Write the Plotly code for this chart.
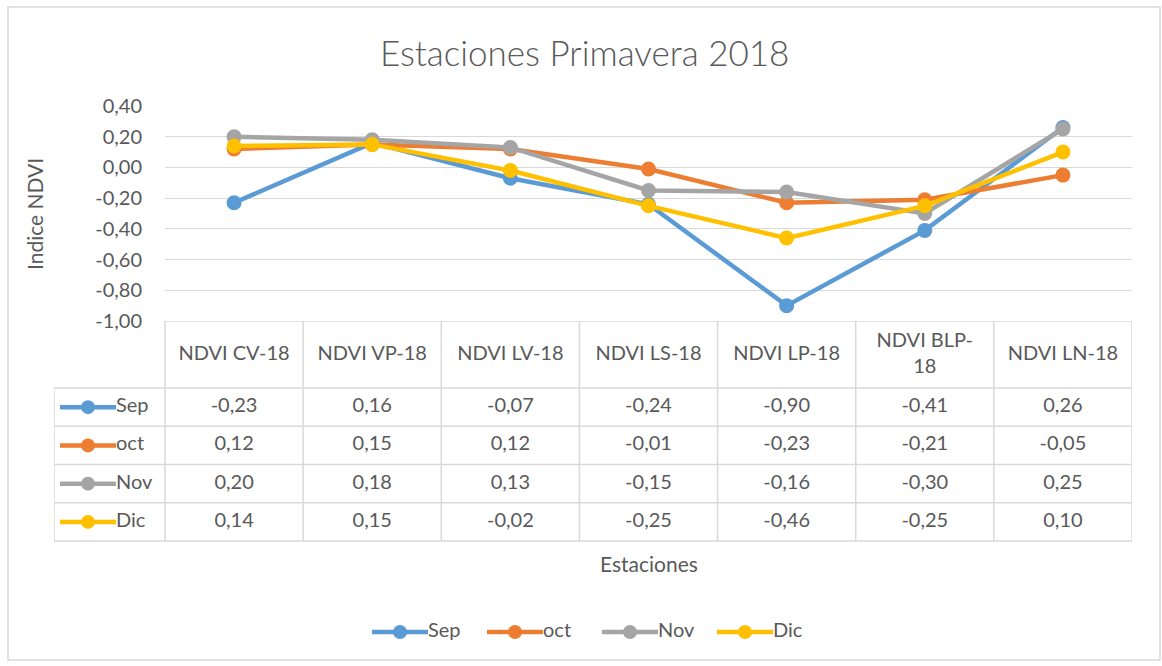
import plotly.graph_objects as go

# datos
estaciones = ["NDVI CV-18", "NDVI VP-18", "NDVI LV-18", "NDVI LS-18",
              "NDVI LP-18", "NDVI BLP-18", "NDVI LN-18"]
meses = ["Sep", "oct", "Nov", "Dic"]
sep = [-0.23, 0.16, -0.07, -0.24, -0.90, -0.41, 0.26]
octubre = [0.12, 0.15, 0.12, -0.01, -0.23, -0.21, -0.05]
nov = [0.20, 0.18, 0.13, -0.15, -0.16, -0.30, 0.25]
dic = [0.14, 0.15, -0.02, -0.25, -0.46, -0.25, 0.10]
series = [sep, octubre, nov, dic]
colores = ["#5B9BD5", "#ED7D31", "#A5A5A5", "#FFC000"]
y_ticks = [0.4, 0.2, 0.0, -0.2, -0.4, -0.6, -0.8, -1.0]

# layout en pixeles
W, H = 1162, 666
PL, PR = 165, 1132      # area de trazado
PT, PB = 106, 321       # 0,40 y -1,00
HDR = 388               # fin de la fila de encabezado
TB = 541                # fondo de la tabla
KL = 54                 # inicio de la columna de leyenda
LEG_Y, LEG_X0, LEG_DX = 632, 372, 115
KEY = 56                # largo de la clave
FONT = "Lato"
GRIS = "#595959"
BORDE = "#D9D9D9"

n = len(estaciones)
col_w = (PR - PL) / n


def px2x(px):
    return (px - PL) / col_w - 0.5


def fmt(v):
    return f"{v:.2f}".replace(".", ",")


def wrap(label):
    if len(label) > 10 and "-" in label:
        a, b = label.rsplit("-", 1)
        return a + "-<br>" + b
    return label


def clave(fig, x0, y, nombre, c):
    fig.add_trace(go.Scatter(x=[px2x(x0), px2x(x0 + KEY)], y=[y] * 2, mode="lines",
                             line=dict(color=c, width=4.5),
                             xaxis="x2", yaxis="y2", showlegend=False, hoverinfo="skip"))
    fig.add_trace(go.Scatter(x=[px2x(x0 + KEY / 2)], y=[y], mode="markers",
                             marker=dict(color=c, size=14, opacity=1, line=dict(width=0)),
                             xaxis="x2", yaxis="y2", showlegend=False, hoverinfo="skip"))
    fig.add_trace(go.Scatter(x=[px2x(x0 + KEY)], y=[y], text=[nombre], mode="text",
                             textposition="middle right",
                             textfont=dict(size=20, color=GRIS, family=FONT),
                             xaxis="x2", yaxis="y2", showlegend=False, hoverinfo="skip"))


row_h = (TB - HDR) / len(meses)
row_c = [HDR + row_h * (i + 0.5) for i in range(len(meses))]

fig = go.Figure()

for nombre, vals, c in zip(meses, series, colores):
    fig.add_trace(go.Scatter(x=estaciones, y=vals, name=nombre, mode="lines+markers",
                             line=dict(color=c, width=4.5), marker=dict(color=c, size=15),
                             showlegend=False))

# tabla de datos
idx = list(range(n))
fig.add_trace(go.Scatter(x=idx, y=[(PB + HDR) / 2] * n, text=[wrap(e) for e in estaciones],
                         mode="text", textfont=dict(size=20, color=GRIS, family=FONT),
                         xaxis="x2", yaxis="y2", showlegend=False, hoverinfo="skip"))
for i, (nombre, vals, c) in enumerate(zip(meses, series, colores)):
    fig.add_trace(go.Scatter(x=idx, y=[row_c[i]] * n, text=[fmt(v) for v in vals],
                             mode="text", textfont=dict(size=20, color=GRIS, family=FONT),
                             xaxis="x2", yaxis="y2", showlegend=False, hoverinfo="skip"))
    clave(fig, 60, row_c[i], nombre, c)
    # leyenda inferior
    clave(fig, LEG_X0 + LEG_DX * i, LEG_Y, nombre, c)

shapes = []
lw = 1.5
# lineas horizontales de la tabla
shapes.append(dict(type="line", xref="x2", yref="y2", x0=-0.5, x1=n - 0.5, y0=PB, y1=PB,
                   line=dict(color=BORDE, width=lw)))
for k in range(len(meses) + 1):
    y = HDR + row_h * k
    shapes.append(dict(type="line", xref="x2", yref="y2", x0=px2x(KL), x1=n - 0.5, y0=y, y1=y,
                       line=dict(color=BORDE, width=lw)))
# lineas verticales
for k in range(n + 1):
    shapes.append(dict(type="line", xref="x2", yref="y2", x0=k - 0.5, x1=k - 0.5, y0=PB, y1=TB,
                       line=dict(color=BORDE, width=lw)))
shapes.append(dict(type="line", xref="x2", yref="y2", x0=px2x(KL), x1=px2x(KL), y0=HDR, y1=TB,
                   line=dict(color=BORDE, width=lw)))
# borde del grafico
shapes.append(dict(type="rect", xref="paper", yref="paper", x0=8 / W, x1=1160 / W,
                   y0=1 - 660 / H, y1=1 - 7 / H, line=dict(color=BORDE, width=1.5)))

fig.update_layout(
    width=W, height=H,
    margin=dict(l=0, r=0, t=0, b=0, autoexpand=False),
    paper_bgcolor="white", plot_bgcolor="white",
    font=dict(family=FONT, color=GRIS, size=20),
    showlegend=False,
    xaxis=dict(domain=[PL / W, PR / W], range=[-0.5, n - 0.5], showticklabels=False,
               showgrid=False, zeroline=False, showline=False, automargin=False),
    yaxis=dict(domain=[1 - PB / H, 1 - PT / H], range=[-1.0, 0.4],
               tickvals=y_ticks, ticktext=[fmt(v) for v in y_ticks],
               gridcolor=BORDE, gridwidth=1.2, zeroline=False, automargin=False,
               showline=False, ticklabelstandoff=22, tickfont=dict(size=20, color=GRIS)),
    xaxis2=dict(domain=[KL / W, PR / W], range=[px2x(KL), n - 0.5], visible=False,
                anchor="y2"),
    yaxis2=dict(domain=[0, 1 - PB / H], range=[H, PB], visible=False, anchor="x2"),
    shapes=shapes,
    annotations=[
        dict(text="Estaciones Primavera 2018", x=585 / W, y=1 - 52 / H, xref="paper",
             yref="paper", yanchor="middle", showarrow=False,
             font=dict(size=35, color=GRIS, family=FONT, weight=300)),
        dict(text="Indice NDVI", x=35 / W, y=1 - 214 / H, xref="paper", yref="paper",
             textangle=-90, xanchor="center", yanchor="middle", showarrow=False,
             font=dict(size=21, color=GRIS)),
        dict(text="Estaciones", x=(PL + PR) / 2 / W, y=1 - 563 / H, xref="paper", yref="paper",
             yanchor="middle", showarrow=False, font=dict(size=21, color=GRIS)),
    ],
)

fig.write_html(
    "out.html",
    config={"displayModeBar": False},
    post_script=("document.body.style.margin = '0';"
                 "document.body.style.overflow = 'hidden';"
                 "var d = document.getElementById('{plot_id}');"
                 "d.style.position = 'fixed'; d.style.top = '0'; d.style.left = '0';"),
)
